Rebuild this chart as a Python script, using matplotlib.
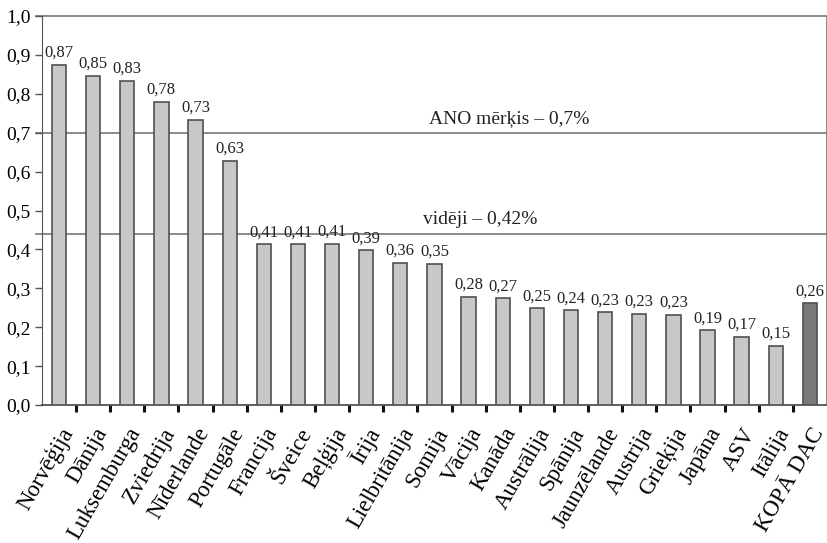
import matplotlib
matplotlib.use("Agg")
import matplotlib.pyplot as plt
import matplotlib.transforms as mtransforms
import numpy as np

plt.rcParams['font.family'] = ['Liberation Serif', 'DejaVu Serif']

countries = ["Norvēģija", "Dānija", "Luksemburga", "Zviedrija", "Nīderlande",
             "Portugāle", "Francija", "Šveice", "Beļģija", "Īrija",
             "Lielbritānija", "Somija", "Vācija", "Kanāda", "Austrālija",
             "Spānija", "Jaunzēlande", "Austrija", "Grieķija", "Japāna",
             "ASV", "Itālija", "KOPĀ DAC"]
heights = [0.875, 0.847, 0.834, 0.78, 0.733, 0.628, 0.413, 0.413, 0.415, 0.398,
           0.366, 0.363, 0.279, 0.275, 0.249, 0.244, 0.239, 0.235, 0.232, 0.192,
           0.175, 0.153, 0.262]
labels = ["0,87", "0,85", "0,83", "0,78", "0,73", "0,63", "0,41", "0,41", "0,41",
          "0,39", "0,36", "0,35", "0,28", "0,27", "0,25", "0,24", "0,23", "0,23",
          "0,23", "0,19", "0,17", "0,15", "0,26"]
un_target = 0.7
average = 0.44

fig = plt.figure(figsize=(8.28, 5.43), dpi=100)
ax = fig.add_axes([0.0507, 0.254, 0.948, 0.7165])

x = np.arange(len(countries))
colors = ['#c8c8c8'] * (len(countries) - 1) + ['#7a7a7a']
ax.bar(x, heights, width=0.42, color=colors, edgecolor='#505050', linewidth=1.2, zorder=3)

for xi, h, lab in zip(x, heights, labels):
    ax.text(xi, h + 0.01, lab, ha='center', va='bottom', fontsize=12, color='#222222')

# reference lines run a little past the left spine, like the ticks
for yv in [un_target, average, 1.0]:
    ax.axhline(yv, xmin=-0.008, color='#777777', lw=1.2, zorder=1, clip_on=False)
ax.text(10.85, un_target + 0.015, "ANO mērķis – 0,7%", fontsize=14, va='bottom', color='#222222')
ax.text(10.65, average + 0.015, "vidēji – 0,42%", fontsize=14, va='bottom', color='#222222')

ax.set_xlim(-0.5, len(countries) - 0.5)
ax.set_ylim(0, 1.0)
ax.set_yticks(np.arange(0, 1.01, 0.1))
ax.set_yticklabels([f"{v:.1f}".replace('.', ',') for v in np.arange(0, 1.01, 0.1)], fontsize=14)
ax.tick_params(axis='y', direction='out', length=5, width=1, color='#555555', pad=3)

ax.set_xticks(x)
ax.set_xticklabels(countries, rotation=60, ha='right', va='top', rotation_mode='anchor', fontsize=16.5)
ax.tick_params(axis='x', length=0, pad=0)
offset = mtransforms.ScaledTranslation(0, -19 / 100, fig.dpi_scale_trans)
for lab in ax.get_xticklabels():
    lab.set_transform(lab.get_transform() + offset)
ax.set_xticks(np.arange(0.5, len(countries) - 0.5), minor=True)
ax.tick_params(axis='x', which='minor', direction='out', length=5, width=2.2, color='#111111')

for s in ['top', 'right']:
    ax.spines[s].set_visible(False)
ax.spines['left'].set_color('#555555')
ax.spines['bottom'].set_color('#444444')
ax.spines['bottom'].set_linewidth(1.2)
ax.axvline(len(countries) - 0.5, color='#777777', lw=1.2)

fig.savefig("out.png", dpi=100, facecolor='white')
